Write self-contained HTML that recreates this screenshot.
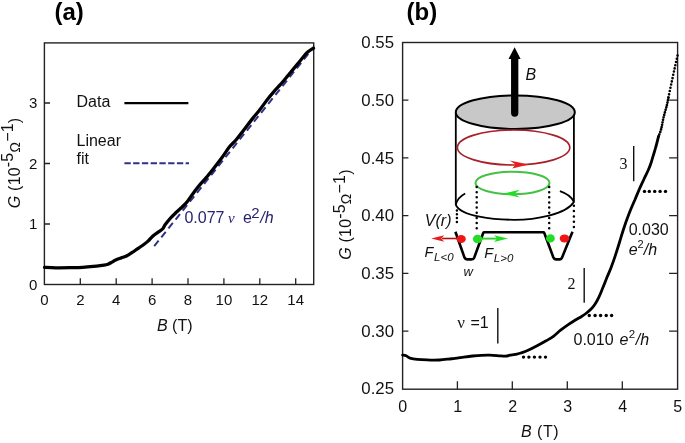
<!DOCTYPE html>
<html><head><meta charset="utf-8">
<style>
html,body{margin:0;padding:0;background:#fff;}
body{width:685px;height:443px;overflow:hidden;}
svg{display:block;will-change:transform;}
text{font-family:"Liberation Sans",sans-serif;fill:#111;}
.t15{font-size:15px;}
.t16{font-size:16px;}
.it{font-style:italic;}
.bold{font-weight:bold;font-size:24px;fill:#000;}
.serif{font-family:"Liberation Serif",serif;}
.navy{fill:#25256e;}
</style></head>
<body>
<svg width="685" height="443" viewBox="0 0 685 443">
<!-- ============ PANEL A ============ -->
<text class="bold" x="54.5" y="19.5">(a)</text>
<rect x="44.4" y="42.9" width="269.3" height="241.6" fill="none" stroke="#222" stroke-width="1.4"/>
<g stroke="#222" stroke-width="1.3">
<path d="M44.4 224H50M44.4 163.5H50M44.4 103H50"/>
<path d="M80.3 284.5V278.3M116.2 284.5V278.3M152.1 284.5V278.3M188 284.5V278.3M223.9 284.5V278.3M259.8 284.5V278.3M295.7 284.5V278.3"/>
</g>
<g class="t15" text-anchor="end">
<text x="37.4" y="289.8">0</text>
<text x="37.4" y="229.2">1</text>
<text x="37.4" y="168.7">2</text>
<text x="37.4" y="108.1">3</text>
</g>
<g class="t15" text-anchor="middle">
<text x="44.4" y="305.3">0</text>
<text x="80.3" y="305.3">2</text>
<text x="116.2" y="305.3">4</text>
<text x="152.1" y="305.3">6</text>
<text x="188" y="305.3">8</text>
<text x="223.9" y="305.3">10</text>
<text x="259.8" y="305.3">12</text>
<text x="295.7" y="305.3">14</text>
</g>
<text class="t16" x="157" y="330.8"><tspan class="it">B</tspan> (T)</text>
<text font-size="16" letter-spacing="0.2" transform="translate(19.8 208.2) rotate(-90)"><tspan class="it">G</tspan> (10<tspan dy="-6.5">-5</tspan><tspan dy="6.5" font-size="14">Ω</tspan><tspan dy="-6.5">−1</tspan><tspan dy="6.5">)</tspan></text>
<!-- legend -->
<text class="t16" x="76.5" y="107">Data</text>
<path d="M124.4 103.1H188.4" stroke="#000" stroke-width="2.2"/>
<text class="t16" x="76.5" y="146">Linear</text>
<text class="t16" x="76.5" y="164.2">fit</text>
<path d="M124.4 163.2H189" stroke="#303088" stroke-width="2.1" stroke-dasharray="6.35 2.4"/>
<!-- fit line -->
<path d="M154.2 246.2L313.5 47.4" stroke="#303088" stroke-width="2" stroke-dasharray="7 4.4" fill="none"/>
<!-- data -->
<path fill="none" stroke="#000" stroke-width="3.3" stroke-linejoin="round" stroke-linecap="round" d="M44.5 267.3C46.4 267.4 51.5 267.7 55.7 267.8C60.0 267.9 65.5 267.8 70.0 267.7C74.5 267.6 78.1 267.6 82.5 267.3C86.9 267.0 93.0 266.5 96.6 266.1C100.2 265.8 102.1 265.5 104.0 265.2C105.9 264.9 106.7 264.7 108.0 264.2C109.3 263.7 110.7 262.8 112.0 262.1C113.3 261.4 114.0 260.8 115.6 260.1C117.1 259.4 119.4 258.6 121.3 257.9C123.2 257.2 125.0 256.8 126.9 255.8C128.8 254.9 130.7 253.4 132.6 252.2C134.5 250.9 136.3 249.6 138.2 248.3C140.1 247.0 142.1 245.7 143.8 244.5C145.5 243.3 146.8 242.3 148.3 240.9C149.8 239.5 151.2 237.4 152.9 235.9C154.6 234.4 156.8 233.1 158.5 231.9C160.2 230.7 161.9 229.7 163.0 228.5C164.1 227.3 163.9 226.3 165.2 224.6C166.5 222.8 168.8 220.1 170.6 218.0C172.4 215.9 174.4 214.1 176.3 212.3C178.2 210.5 180.0 209.0 181.9 207.2C183.8 205.3 185.6 203.7 187.6 201.2C189.6 198.7 191.6 195.3 193.8 192.4C196.0 189.5 198.3 186.6 200.6 183.9C202.9 181.2 205.1 179.0 207.4 176.3C209.7 173.6 211.8 170.9 214.2 167.8C216.6 164.7 219.4 161.0 222.0 157.5C224.6 154.0 227.1 149.8 229.5 146.8C231.9 143.8 234.1 142.3 236.4 139.5C238.8 136.7 240.9 133.7 243.6 130.2C246.3 126.7 249.8 122.0 252.5 118.6C255.2 115.2 257.4 112.9 259.8 109.8C262.2 106.7 264.7 103.0 267.0 100.0C269.3 97.0 271.3 94.6 273.5 92.1C275.7 89.5 278.0 87.3 280.3 84.7C282.6 82.1 284.8 79.3 287.1 76.6C289.4 73.9 291.6 71.1 293.9 68.4C296.1 65.7 298.4 63.0 300.6 60.3C302.9 57.6 305.2 54.2 307.4 52.2C309.5 50.2 312.5 48.8 313.5 48.1"/>
<text class="navy" font-size="16" x="184.4" y="222.6">0.077<tspan class="it serif" font-size="15" dx="3.6">ν</tspan><tspan dx="8.2">e</tspan><tspan font-size="15" dx="-0.6" dy="-4.6">2</tspan><tspan class="it" dx="0.8" dy="4.6">/h</tspan></text>

<!-- ============ PANEL B ============ -->
<text class="bold" x="406.5" y="19.5">(b)</text>
<rect x="402.6" y="42.5" width="275" height="346.7" fill="none" stroke="#222" stroke-width="1.4"/>
<g stroke="#222" stroke-width="1.3">
<path d="M402.6 100.2H408.4M402.6 157.9H408.4M402.6 215.7H408.4M402.6 273.4H408.4M402.6 331.1H408.4"/>
<path d="M677.6 100.2H669.1M677.6 157.9H669.1M677.6 215.7H669.1M677.6 273.4H669.1M677.6 331.1H669.1"/>
<path d="M457.4 389.2V381.2M512.3 389.2V381.2M567.3 389.2V381.2M622.3 389.2V381.2"/>
</g>
<g class="t16" text-anchor="end" transform="translate(394 0) scale(1.05 1) translate(-394 0)">
<text x="394" y="48">0.55</text>
<text x="394" y="105.9">0.50</text>
<text x="394" y="163.6">0.45</text>
<text x="394" y="221.4">0.40</text>
<text x="394" y="279.1">0.35</text>
<text x="394" y="336.8">0.30</text>
<text x="394" y="394.5">0.25</text>
</g>
<g class="t16" text-anchor="middle">
<text x="402.6" y="411.7">0</text>
<text x="457.6" y="411.7">1</text>
<text x="512.6" y="411.7">2</text>
<text x="567.6" y="411.7">3</text>
<text x="622.6" y="411.7">4</text>
<text x="677.6" y="411.7">5</text>
</g>
<text class="t16" x="521" y="436.5" letter-spacing="0.5"><tspan class="it">B</tspan> (T)</text>
<text font-size="16" letter-spacing="0.2" transform="translate(351.2 259.8) rotate(-90)"><tspan class="it">G</tspan> (10<tspan dy="-6.5">-5</tspan><tspan dy="6.5" font-size="14">Ω</tspan><tspan dy="-6.5">−1</tspan><tspan dy="6.5">)</tspan></text>

<!-- data b -->
<path fill="none" stroke="#000" stroke-width="2.8" stroke-linejoin="round" stroke-linecap="round" d="M402.6 355.1C403.2 355.2 404.9 355.3 406.1 355.8C407.3 356.3 408.4 357.5 409.6 358.0C410.8 358.5 411.1 358.5 413.1 358.8C415.2 359.1 419.0 359.5 421.9 359.7C424.8 359.9 427.8 360.1 430.7 360.1C433.6 360.2 436.5 360.2 439.4 360.0C442.3 359.8 445.6 359.4 448.2 359.1C450.8 358.8 452.4 358.7 455.0 358.4C457.6 358.1 460.9 357.5 463.8 357.1C466.7 356.7 469.6 356.3 472.5 356.0C475.4 355.7 478.4 355.4 481.3 355.3C484.2 355.2 487.1 355.1 490.0 355.2C492.9 355.3 496.2 355.6 498.8 355.8C501.4 356.0 503.9 356.3 505.8 356.2C507.7 356.1 508.4 355.5 510.0 355.2C511.6 354.9 513.6 354.7 515.4 354.3C517.2 353.9 518.7 353.7 520.8 353.0C522.9 352.3 525.4 351.5 528.1 350.3C530.8 349.1 534.1 347.4 537.1 345.8C540.1 344.2 543.4 342.4 546.1 340.8C548.8 339.2 551.0 338.1 553.4 336.3C555.8 334.5 558.1 332.2 560.6 330.2C563.1 328.2 566.2 325.9 568.6 324.3C571.0 322.7 572.8 321.6 574.9 320.3C577.0 319.0 579.2 317.9 581.2 316.7C583.2 315.5 585.0 314.3 586.6 313.0C588.2 311.7 589.7 310.4 591.1 309.0C592.5 307.6 593.6 306.3 594.8 304.5C596.0 302.7 597.2 300.6 598.4 298.1C599.6 295.7 600.6 293.2 602.0 289.8C603.4 286.4 605.4 281.3 606.9 277.6C608.4 273.9 609.7 271.2 611.1 267.5C612.5 263.8 613.9 259.9 615.3 255.6C616.7 251.3 618.3 246.2 619.6 242.0C620.9 237.8 622.0 233.8 623.2 230.2C624.4 226.6 625.4 223.6 626.6 220.3C627.8 217.0 628.9 213.9 630.3 210.5C631.7 207.1 633.3 203.4 634.8 200.0C636.2 196.6 637.5 193.5 639.0 190.0C640.5 186.5 642.5 182.3 644.0 179.0C645.5 175.7 647.1 172.7 648.3 170.0C649.5 167.3 650.0 166.1 651.0 163.0C652.0 159.9 653.6 154.4 654.5 151.5C655.4 148.6 655.5 148.0 656.2 145.5C656.9 143.0 658.1 138.0 658.5 136.5"/>
<path fill="none" stroke="#000" stroke-width="2.7" stroke-linecap="round" stroke-dasharray="0 2.5" d="M658.5 136.5C659.0 135.2 660.5 131.7 661.3 128.5C662.1 125.3 662.6 121.5 663.5 117.6C664.4 113.7 666.1 108.5 666.9 105.2C667.7 101.9 668.1 98.8 668.4 97.5"/>
<path fill="none" stroke="#000" stroke-width="2.6" stroke-linecap="round" stroke-dasharray="0 3.3" d="M668.4 97.5C668.9 95.2 670.3 88.4 671.4 83.4C672.5 78.4 673.7 72.4 674.8 67.6C675.9 62.7 677.3 56.5 677.8 54.3"/>

<!-- plateau markers -->
<g fill="#000">
<circle cx="523.5" cy="357.1" r="1.7"/><circle cx="528.9" cy="357.1" r="1.7"/><circle cx="534.4" cy="357.1" r="1.7"/><circle cx="540" cy="357.1" r="1.7"/><circle cx="545.5" cy="357.1" r="1.7"/>
<circle cx="589.3" cy="315.5" r="1.7"/><circle cx="595.1" cy="315.5" r="1.7"/><circle cx="600.6" cy="315.5" r="1.7"/><circle cx="606.2" cy="315.5" r="1.7"/><circle cx="611.6" cy="315.5" r="1.7"/>
<circle cx="644.5" cy="191.4" r="1.7"/><circle cx="649.3" cy="191.4" r="1.7"/><circle cx="654.7" cy="191.4" r="1.7"/><circle cx="660.1" cy="191.4" r="1.7"/><circle cx="665.5" cy="191.4" r="1.7"/>
</g>
<g stroke="#111" stroke-width="1.4">
<path d="M497.8 307.9V343.4"/>
<path d="M584.2 267.9V302.8"/>
<path d="M633.7 146.1V181.3"/>
</g>
<text class="t16" x="457.2" y="328"><tspan class="serif" font-size="17">ν</tspan><tspan dx="1.2"> =1</tspan></text>
<text class="serif" font-size="16" x="567.5" y="289.3">2</text>
<text class="serif" font-size="16" x="619.6" y="168.7">3</text>
<text class="t16" x="573.5" y="345">0.010 <tspan class="it" dx="1.5">e</tspan><tspan font-size="11.5" dx="0.3" dy="-7.5">2</tspan><tspan class="it" dx="0.6" dy="7.5">/h</tspan></text>
<text class="t16" x="628.7" y="235.1">0.030</text>
<text class="t16" x="628.7" y="255.4"><tspan class="it">e</tspan><tspan font-size="11" dy="-7">2</tspan><tspan class="it" dy="7">/h</tspan></text>

<!-- ============ INSET ============ -->
<path d="M455.8 112.2V204.8M573.9 112.2V202" stroke="#000" stroke-width="1.8" fill="none"/>
<ellipse cx="515.3" cy="112.2" rx="59.5" ry="16.8" fill="#c8c8c8" stroke="#000" stroke-width="2"/>
<path d="M514.7 113V58" stroke="#000" stroke-width="7.3" stroke-linecap="round"/>
<path d="M508.5 59L514.6 47.3L520.6 59Z" fill="#000"/>
<text class="t16 it" x="525.4" y="80.2">B</text>
<ellipse cx="513.6" cy="147.5" rx="56.2" ry="17.5" fill="none" stroke="#a82028" stroke-width="1.6"/>
<path d="M528.6 164.6L509.8 160.6L515.6 164.6L512.3 168.4Z" fill="#e81c1c"/>
<ellipse cx="512.5" cy="183" rx="37" ry="11.2" fill="none" stroke="#44c044" stroke-width="2"/>
<path d="M503 193.7L519.8 189.8L514.7 193.7L519.8 197.6Z" fill="#22dd22"/>
<path d="M465.2 193.5Q457.5 197.5 455.8 204.8C461 216.5 494 219.8 514.5 219.8C535 219.8 566 214.5 573.9 202Q571 195 559.9 191.2" fill="none" stroke="#000" stroke-width="1.8" stroke-linejoin="miter"/>
<g stroke="#000" stroke-width="2.5" stroke-linecap="round" stroke-dasharray="0 5.15" fill="none">
<path d="M456.9 210.5V222" stroke-dasharray="0 3.8"/>
<path d="M476.7 187V229"/>
<path d="M549.2 187V229"/>
<path d="M573.9 205.8V227.2" stroke-dasharray="0 5.3"/>
</g>
<path d="M455.4 231.8L464.3 257Q465.3 259.4 467.5 259.4H471.5Q473.5 259.4 474.3 257.4L483.2 233Q483.5 232.3 484.4 232.3H543.3Q544 232.3 544.3 233L553.3 257.2Q554.2 259.4 556.3 259.4H559.5Q561.4 259.4 562.1 257.4L572.5 231.8" fill="none" stroke="#000" stroke-width="2.6" stroke-linejoin="round"/>
<path d="M461 238.5H442" stroke="#b01010" stroke-width="1.6"/>
<path d="M431.2 238.4L444.3 235.2L441.2 238.4L444.3 241.8Z" fill="#e81c1c"/>
<path d="M478 238.6H497" stroke="#33cc33" stroke-width="1.9"/>
<path d="M508 238.6L494.1 235.2L497.2 238.6L494.1 242.1Z" fill="#22dd22"/>
<ellipse cx="461.2" cy="239" rx="4.6" ry="4" fill="#f01414"/>
<ellipse cx="564.5" cy="238.4" rx="4.8" ry="4" fill="#f01414"/>
<ellipse cx="477.6" cy="239" rx="4.7" ry="4.3" fill="#22dd22"/>
<ellipse cx="550.4" cy="238.4" rx="4.4" ry="4.2" fill="#22dd22"/>
<text class="t16 it" x="424.8" y="225.8">V(r)</text>
<text class="it" font-size="14.5" x="424.6" y="257">F<tspan font-size="11.5" dx="0.6" dy="3.6">L&lt;0</tspan></text>
<text class="it" font-size="14.5" x="484.2" y="257.7">F<tspan font-size="11.5" dx="0.8" dy="3.9">L&gt;0</tspan></text>
<text class="it" font-size="13" x="463.5" y="275.8">w</text>
</svg>
</body></html>
